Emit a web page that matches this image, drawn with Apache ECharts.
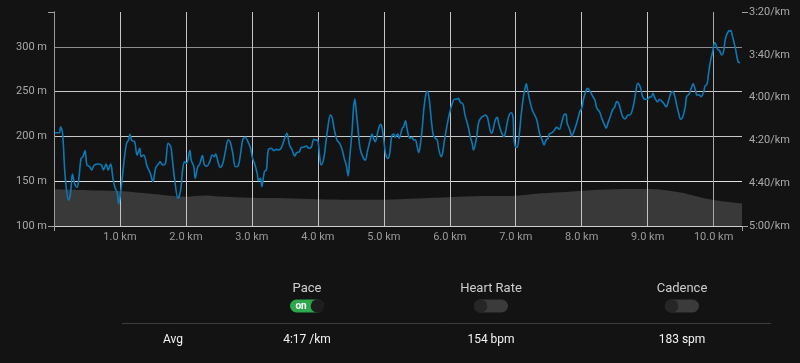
<!DOCTYPE html>
<html>
<head>
<meta charset="utf-8">
<script src="https://cdn.jsdelivr.net/npm/echarts@6/dist/echarts.min.js"></script>
<style>
html,body{margin:0;padding:0;background:#131313;}
#chart{width:800px;height:363px;}
</style>
</head>
<body>
<div id="chart"></div>
<script>
// ---- data ----
const paceKm = [0.01,0.08,0.10,0.13,0.17,0.22,0.25,0.28,0.31,0.35,
0.38,0.41,0.44,0.47,0.50,0.54,0.57,0.61,0.68,0.72,
0.75,0.79,0.82,0.86,0.89,0.92,0.96,0.98,1.02,1.07,
1.10,1.13,1.15,1.18,1.22,1.26,1.30,1.32,1.36,1.41,
1.46,1.50,1.54,1.59,1.61,1.65,1.69,1.73,1.77,1.79,
1.83,1.88,1.92,1.95,1.98,2.01,2.06,2.08,2.12,2.14,
2.18,2.21,2.25,2.28,2.32,2.36,2.40,2.43,2.45,2.49,
2.52,2.56,2.60,2.64,2.67,2.71,2.75,2.79,2.83,2.86,
2.90,2.94,2.98,3.01,3.04,3.08,3.10,3.13,3.15,3.19,
3.22,3.25,3.30,3.33,3.37,3.41,3.45,3.48,3.53,3.57,
3.61,3.65,3.68,3.72,3.75,3.78,3.83,3.86,3.90,3.94,
3.97,4.00,4.03,4.05,4.09,4.12,4.15,4.19,4.22,4.25,
4.29,4.33,4.37,4.40,4.43,4.46,4.48,4.52,4.54,4.56,
4.58,4.61,4.64,4.68,4.72,4.75,4.80,4.82,4.85,4.87,
4.91,4.95,4.97,5.00,5.03,5.06,5.09,5.12,5.15,5.17,
5.21,5.23,5.28,5.30,5.33,5.35,5.38,5.40,5.43,5.45,
5.48,5.50,5.53,5.55,5.58,5.61,5.64,5.66,5.69,5.72,
5.75,5.78,5.81,5.83,5.87,5.89,5.92,5.96,5.99,6.03,
6.07,6.11,6.13,6.16,6.20,6.23,6.28,6.31,6.34,6.36,
6.40,6.44,6.48,6.51,6.54,6.57,6.60,6.63,6.65,6.69,
6.72,6.74,6.77,6.79,6.82,6.84,6.87,6.90,6.93,6.96,
6.97,6.99,7.02,7.05,7.08,7.11,7.14,7.16,7.18,7.21,
7.25,7.28,7.32,7.36,7.40,7.43,7.46,7.49,7.51,7.55,
7.58,7.62,7.66,7.70,7.73,7.76,7.78,7.82,7.85,7.89,
7.93,7.97,8.00,8.03,8.07,8.09,8.13,8.17,8.20,8.23,
8.27,8.31,8.34,8.37,8.40,8.43,8.47,8.50,8.53,8.56,
8.59,8.62,8.66,8.70,8.73,8.78,8.82,8.85,8.89,8.92,
8.96,9.00,9.03,9.05,9.08,9.11,9.15,9.18,9.22,9.25,
9.28,9.32,9.35,9.38,9.41,9.44,9.47,9.50,9.53,9.57,
9.59,9.63,9.66,9.69,9.72,9.75,9.78,9.81,9.85,9.87,
9.90,9.92,9.95,9.98,10.02,10.06,10.09,10.12,10.15,10.18,
10.22,10.26,10.28,10.33,10.37,10.40];

// pace in seconds per km
const paceSec = [256.4,256.4,253.6,256.7,277.0,287.9,284.7,275.7,280.0,281.9,
277.0,268.4,267.6,264.8,271.5,272.3,273.8,271.5,271.0,271.6,
273.8,271.0,273.8,271.0,277.0,281.6,284.7,289.7,281.6,267.6,
261.4,259.8,257.1,260.1,260.4,266.8,263.7,267.6,266.8,272.0,
275.4,279.3,273.0,270.7,270.0,271.5,270.7,261.4,262.9,267.6,
278.5,287.1,283.2,273.8,270.0,270.7,264.8,269.2,272.3,277.7,
272.3,271.0,267.1,271.5,272.0,270.0,266.8,267.6,266.4,270.4,
272.6,270.7,264.8,259.8,260.6,266.0,272.3,272.0,266.0,259.8,
258.5,260.6,263.7,268.4,270.7,275.4,278.8,277.7,281.6,274.6,
273.8,264.5,263.7,264.8,264.2,264.5,263.2,260.6,256.7,262.1,
264.5,267.3,265.7,265.3,263.2,263.2,262.6,263.7,263.2,259.5,
259.8,260.1,268.4,271.5,268.4,261.4,254.3,248.1,249.7,255.1,
259.8,261.4,264.5,268.4,271.5,276.6,269.2,255.1,245.0,240.7,
245.8,255.1,263.7,267.6,269.2,265.3,259.0,257.0,259.5,260.6,
255.9,252.5,253.6,259.8,266.8,268.4,266.0,257.9,257.0,258.5,
257.0,259.0,254.3,253.6,250.8,254.3,258.3,259.0,258.5,259.8,
259.8,262.1,265.7,262.9,255.1,244.3,238.0,236.9,241.1,250.5,
257.5,259.0,259.8,263.7,267.6,266.0,259.8,252.8,248.1,243.5,
240.8,240.7,240.3,242.2,243.0,248.1,253.6,258.3,261.4,264.5,
259.8,251.3,249.2,248.6,248.1,249.2,253.6,256.7,255.9,250.5,
249.2,252.0,255.1,256.7,258.3,256.7,252.0,248.1,247.1,249.5,
258.3,262.6,263.2,258.3,248.9,241.1,235.7,233.6,236.4,241.1,
245.8,247.7,250.5,256.7,259.8,262.1,259.8,259.0,257.0,256.4,
255.5,253.9,254.8,251.3,248.1,247.7,252.0,255.1,257.9,255.1,
251.3,246.6,245.0,240.3,236.4,235.7,237.2,239.6,241.1,245.0,
246.6,250.1,252.3,254.3,251.7,249.2,245.5,244.5,241.9,242.7,
245.8,248.9,250.0,248.1,248.1,244.3,237.2,233.3,235.2,239.2,
240.8,240.8,239.6,239.9,238.0,240.3,241.9,240.8,241.9,243.0,
244.3,241.1,238.0,237.2,239.2,243.5,247.3,250.1,249.2,244.3,
239.6,238.3,235.7,233.6,236.1,238.8,238.8,239.6,237.2,234.6,
233.6,229.4,223.2,219.3,214.3,217.4,218.1,220.1,218.5,212.3,
209.2,208.7,210.7,217.0,223.2,223.7];

const elevKm = [0, 0.5, 1.0, 1.5, 2.0, 2.3, 2.5, 3.0, 3.5, 4.0, 4.5, 5.0, 5.5, 6.0, 6.5, 7.0, 7.4, 7.8, 8.0, 8.5, 9.0, 9.2, 9.5, 9.75, 10.0, 10.43];
const elevM  = [141, 140, 139, 135.7, 132.7, 134, 133, 131.5, 131, 129.8, 129.2, 129.4, 130.8, 132.2, 133.5, 133.8, 136.5, 138.3, 139.4, 141, 141.2, 140.5, 137.5, 133, 129, 125];

const kmTicks = [1,2,3,4,5,6,7,8,9,10];
const elevTicks = [100,150,200,250,300];
const paceTicks = [200,220,240,260,280,300];

const toggles = [
  {label:'Pace', on:true, avg:'4:17 /km'},
  {label:'Heart Rate', on:false, avg:'154 bpm'},
  {label:'Cadence', on:false, avg:'183 spm'}
];
const togglePosX = [307, 491, 682];

// ---- chart ----
const FONT = 'Roboto';
const chart = echarts.init(document.getElementById('chart'), null, {renderer:'canvas'});
const paceData = paceKm.map((k,i)=>[k, paceSec[i]]);
const elevData = elevKm.map((k,i)=>[k, elevM[i]]);
const XMAX = 10.43;

function fmtPace(s){ const m=Math.floor(s/60), r=Math.round(s%60); return m+':'+String(r).padStart(2,'0')+'/km'; }

const graphics = [];
toggles.forEach((t,i)=>{
  const cx = togglePosX[i];
  graphics.push({type:'text', x:cx, y:289, style:{text:t.label, fill:'#cfcfcf', font:'13px '+FONT, align:'center', verticalAlign:'middle'}});
  const w=34,h=13, x0=cx-17, y0=299.5;
  if(t.on){
    graphics.push({type:'rect', x:x0, y:y0, shape:{x:0,y:0,width:w,height:h,r:6.5}, style:{fill:'#2ea84a'}});
    graphics.push({type:'circle', x:x0+w-6.5, y:y0+6.5, shape:{cx:0,cy:0,r:6.8}, style:{fill:'#1d1d1d'}});
    graphics.push({type:'text', x:x0+11, y:y0+7, style:{text:'on', fill:'#ffffff', font:'bold 10px '+FONT, align:'center', verticalAlign:'middle'}});
  } else {
    graphics.push({type:'rect', x:x0, y:y0, shape:{x:0,y:0,width:w,height:h,r:6.5}, style:{fill:'#3b3b3b'}});
    graphics.push({type:'circle', x:x0+6.5, y:y0+6.5, shape:{cx:0,cy:0,r:6.8}, style:{fill:'#262626'}});
  }
  graphics.push({type:'text', x:cx, y:340, style:{text:t.avg, fill:'#f4f4f4', font:'12px '+FONT, align:'center', verticalAlign:'middle'}});
});
graphics.push({type:'line', shape:{x1:122,y1:323.5,x2:771,y2:323.5}, style:{stroke:'#3d3d3d', lineWidth:1}});
graphics.push({type:'text', x:173, y:340, style:{text:'Avg', fill:'#f4f4f4', font:'12px '+FONT, align:'center', verticalAlign:'middle'}});

const option = {
  backgroundColor:'#131313',
  animation:false,
  grid:{left:54, right:58, top:12, bottom:137, containLabel:false},
  xAxis:[
    {type:'value', min:0, max:XMAX, interval:1, position:'bottom',
     axisLine:{show:true, lineStyle:{color:'#cfcfcf', width:1}},
     axisTick:{show:false},
     axisLabel:{color:'#9a9a9a', fontSize:11, fontFamily:FONT, margin:6,
       showMinLabel:false, showMaxLabel:false,
       formatter:v=> kmTicks.indexOf(Math.round(v))>=0 && Math.abs(v-Math.round(v))<1e-6 ? v.toFixed(1)+' km' : ''},
     splitLine:{show:true, lineStyle:{color:['rgba(0,0,0,0)','#c4c4c4','#c4c4c4','#c4c4c4','#c4c4c4','#c4c4c4','#c4c4c4','#c4c4c4','#c4c4c4','#c4c4c4','#a8a8a8','rgba(0,0,0,0)'], width:1}}
    },
    {type:'value', min:0, max:1, interval:1, position:'bottom',
     axisLine:{show:false}, axisTick:{show:true, length:5, lineStyle:{color:'#a0a0a0'}},
     axisLabel:{show:false}, splitLine:{show:false}}
  ],
  yAxis:[
    {type:'value', min:100, max:339, interval:50, position:'left',
     axisLine:{show:true, lineStyle:{color:'#9a9a9a'}},
     axisTick:{show:false},
     axisLabel:{color:'#a8a8a8', fontSize:11, fontFamily:FONT, margin:7,
       formatter:v=> elevTicks.indexOf(v)>=0 ? v+' m' : ''},
     splitLine:{show:true, lineStyle:{color:['rgba(0,0,0,0)','#e0e0e0','#c8c8c8','#c8c8c8','#8c8c8c','rgba(0,0,0,0)'], width:1}}
    },
    {type:'value', min:200, max:300, interval:20, inverse:true, position:'right',
     axisLine:{show:true, lineStyle:{color:'#9a9a9a'}},
     axisTick:{show:false},
     axisLabel:{color:'#a8a8a8', fontSize:11, fontFamily:FONT, margin:7,
       formatter:v=> paceTicks.indexOf(v)>=0 ? fmtPace(v) : ''},
     splitLine:{show:false}
    },
    {type:'value', min:0, max:1, interval:1, position:'left',
     axisLine:{show:false}, axisTick:{show:true, length:6, lineStyle:{color:'#a0a0a0'}},
     axisLabel:{show:false}, splitLine:{show:false}},
    {type:'value', min:0, max:1, interval:1, position:'right',
     axisLine:{show:false}, axisTick:{show:true, length:6, lineStyle:{color:'#a0a0a0'}},
     axisLabel:{show:false}, splitLine:{show:false}}
  ],
  series:[
    {type:'line', name:'Elevation', xAxisIndex:0, yAxisIndex:0, data:elevData, smooth:0.3,
     symbol:'none', z:-1, lineStyle:{width:0, color:'#393939'}, areaStyle:{color:'#393939', opacity:1}, silent:true},
    {type:'line', name:'Pace', xAxisIndex:0, yAxisIndex:1, data:paceData, smooth:0.35,
     symbol:'none', z:5, lineStyle:{width:1.6, color:'#0c79b5'}, silent:true}
  ],
  graphic:graphics
};
chart.setOption(option);
</script>
</body>
</html>
